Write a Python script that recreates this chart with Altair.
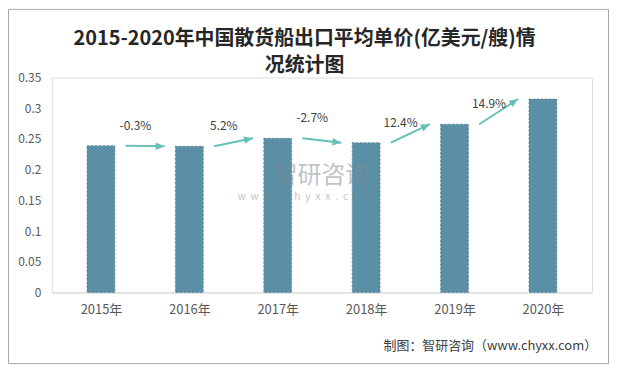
import math
import altair as alt
import pandas as pd

# ---------------- data ----------------
years = ["2015年", "2016年", "2017年", "2018年", "2019年", "2020年"]
prices = [0.239, 0.238, 0.251, 0.244, 0.274, 0.315]
changes = ["-0.3%", "5.2%", "-2.7%", "12.4%", "14.9%"]
y_ticks = [0, 0.05, 0.1, 0.15, 0.2, 0.25, 0.3, 0.35]

title_lines = ["2015-2020年中国散货船出口平均单价(亿美元/艘)情", "况统计图"]
source_text = "制图：智研咨询（www.chyxx.com）"
wm_cn = "智研咨询"
wm_en = "\u2002".join("www.chyxx.com")

# ---------------- layout ----------------
W, H = 543, 216
PAD = {"left": 44, "top": 69, "right": 17, "bottom": 72}
FONT = "Noto Sans CJK SC"
px_x = W / 6.0          # pixels per category step
px_y = H / 0.35         # pixels per unit of price

bar_color = "#5a8fa6"
arrow_color = "#66c0b7"

bars_df = pd.DataFrame({"idx": list(range(len(years))), "year": years, "price": prices})

rows = []
for i, lab in enumerate(changes):
    x0, x1 = i + 0.28, i + 1 - 0.28
    y0, y1 = prices[i], prices[i + 1]
    dx = (x1 - x0) * px_x
    dy = -(y1 - y0) * px_y
    ang = math.degrees(math.atan2(dy, dx)) % 360
    rows.append({"x0": x0, "x1": x1, "y0": y0, "y1": y1, "ang": ang,
                 "lx": i + 0.39, "label": lab})
arr_df = pd.DataFrame(rows)

x_scale = alt.Scale(domain=[-0.5, len(years) - 0.5], nice=False, zero=False)
y_scale = alt.Scale(domain=[0, 0.35], nice=False)

label_expr = "[" + ",".join("'%s'" % y for y in years) + "][datum.value]"

x_axis = alt.Axis(values=list(range(len(years))), labelExpr=label_expr,
                  title=None, ticks=False, grid=False, domain=True,
                  domainColor="#d9d9d9", domainWidth=1, labelOverlap=False,
                  labelFontSize=13, labelColor="#595959", labelPadding=11,
                  labelFont=FONT)
y_axis = alt.Axis(values=y_ticks, format="~g", title=None, ticks=False,
                  grid=False, domain=False, labelFontSize=12,
                  labelOverlap=False, labelFlush=False,
                  labelColor="#595959", labelPadding=11, labelFont=FONT)

bars = alt.Chart(bars_df).mark_bar(
    size=28, color=bar_color, stroke="#4a7a90", strokeWidth=0.7, strokeDash=[2, 2]
).encode(
    x=alt.X("idx:Q", scale=x_scale, title=None, axis=x_axis),
    y=alt.Y("price:Q", scale=y_scale, title=None, axis=y_axis),
)

lines = alt.Chart(arr_df).mark_rule(color=arrow_color, strokeWidth=2).encode(
    x=alt.X("x0:Q", scale=x_scale, title=None, axis=x_axis),
    x2="x1:Q",
    y=alt.Y("y0:Q", scale=y_scale, title=None, axis=y_axis),
    y2="y1:Q",
)

heads = alt.Chart(arr_df).mark_point(
    shape="M0,0L-1,-0.42L-1,0.42Z", size=324, filled=True, opacity=1,
    color=arrow_color, strokeWidth=0
).encode(
    x=alt.X("x1:Q", scale=x_scale, title=None, axis=x_axis),
    y=alt.Y("y1:Q", scale=y_scale, title=None, axis=y_axis),
    angle=alt.Angle("ang:Q", scale=None),
)

pct = alt.Chart(arr_df).mark_text(
    fontSize=12, color="#404040", font=FONT, dy=-20, align="center", baseline="middle"
).encode(
    x=alt.X("lx:Q", scale=x_scale, title=None, axis=x_axis),
    y=alt.Y("y0:Q", scale=y_scale, title=None, axis=y_axis),
    text="label:N",
)

one = pd.DataFrame({"a": [0]})

title = alt.Chart(pd.DataFrame({"t": ["\n".join(title_lines)]})).mark_text(
    font=FONT, fontSize=20, fontWeight="bold", color="#262626",
    lineBreak="\n", lineHeight=27, align="center", baseline="middle"
).encode(x=alt.value(254), y=alt.value(-38.5), text="t:N")

source = alt.Chart(pd.DataFrame({"t": [source_text]})).mark_text(
    font=FONT, fontSize=13, color="#404040", align="right", baseline="middle"
).encode(x=alt.value(548), y=alt.value(270), text="t:N")

wm1 = alt.Chart(pd.DataFrame({"t": [wm_cn]})).mark_text(
    font=FONT, fontSize=24, color="#7f8c94", opacity=0.5, align="center", baseline="middle"
).encode(x=alt.value(271), y=alt.value(99), text="t:N")

wm2 = alt.Chart(pd.DataFrame({"t": [wm_en]})).mark_text(
    font=FONT, fontSize=10, color="#7f8c94", opacity=0.5, align="center",
    baseline="middle"
).encode(x=alt.value(255), y=alt.value(120), text="t:N")

border = alt.Chart(one).mark_rect(
    fill=None, stroke="#a6a6a6", strokeWidth=1
).encode(
    x=alt.value(-PAD["left"] + 0.5), x2=alt.value(W + PAD["right"] - 0.5),
    y=alt.value(-PAD["top"] + 0.5), y2=alt.value(H + PAD["bottom"] - 0.5),
)

chart = alt.layer(bars, lines, heads, pct, wm1, wm2, title, source, border).properties(
    width=W, height=H, padding=PAD,
    autosize=alt.AutoSizeParams(type="none"),
    background="white",
).configure_view(stroke=None).configure(font=FONT)

chart.save("out.html", embed_options={"renderer": "svg", "actions": False})
